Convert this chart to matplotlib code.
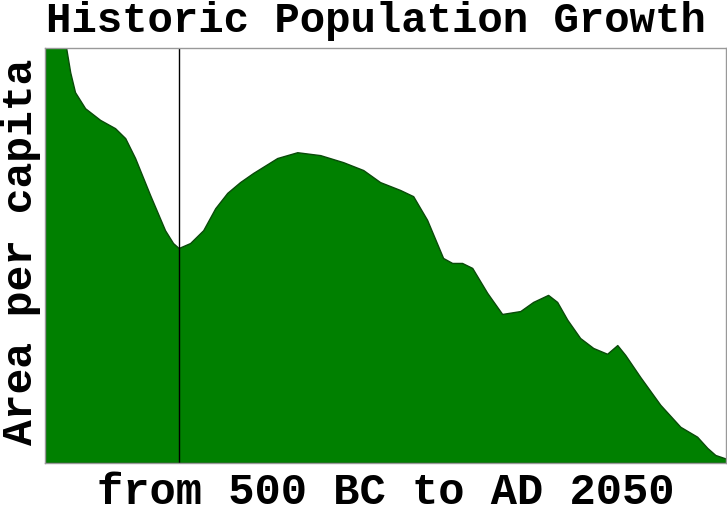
import matplotlib.pyplot as plt

# years (negative = BC) and relative area per capita
years = [-500, -463, -436, -421, -406, -388, -350, -294, -238, -200, -163,
         -107, -51, -21, 0, 43, 92, 137, 182, 230, 279, 369, 444, 530, 616,
         691, 754, 829, 878, 930, 990, 1024, 1061, 1099, 1155, 1211, 1279,
         1327, 1383, 1417, 1455, 1503, 1552, 1604, 1642, 1672, 1728, 1803,
         1878, 1941, 1979, 2009, 2050]
area = [109.2, 105.5, 101.9, 100.0, 94.2, 89.4, 85.5, 82.7, 80.7, 78.3, 73.5,
        64.6, 56.1, 53.0, 51.8, 53.0, 56.1, 61.4, 65.1, 67.7, 69.9, 73.5, 74.9,
        74.2, 72.5, 70.6, 67.7, 65.8, 64.3, 58.6, 49.4, 48.2, 48.2, 47.0, 41.0,
        35.9, 36.6, 38.8, 40.5, 38.8, 34.5, 30.1, 27.7, 26.3, 28.4, 26.0, 20.7,
        14.0, 8.7, 6.3, 3.6, 1.9, 1.0]

font = ['Liberation Mono', 'DejaVu Sans Mono']

fig = plt.figure(figsize=(7.27, 5.12), dpi=100)
ax = fig.add_axes([0.062, 0.096, 0.937, 0.81])

ax.fill_between(years, 0, area, facecolor='green', edgecolor='#0a4a0a', linewidth=1)
ax.axvline(0, color='black', linewidth=1)

ax.set_xlim(-500, 2050)
ax.set_ylim(0, 100)
ax.set_xticks([])
ax.set_yticks([])
for s in ax.spines.values():
    s.set_color('#999999')
    s.set_linewidth(1)

fig.text(0.517, 0.938, 'Historic Population Growth', ha='center', va='baseline',
         family=font, weight='bold', fontsize=30.5)
fig.text(0.531, 0.016, 'from 500 BC to AD 2050', ha='center', va='baseline',
         family=font, weight='bold', fontsize=31.5)
fig.text(0.057, 0.508, 'Area per capita', ha='right', va='center', rotation=90,
         family=font, weight='bold', fontsize=31)

fig.savefig('out.png', dpi=100)
